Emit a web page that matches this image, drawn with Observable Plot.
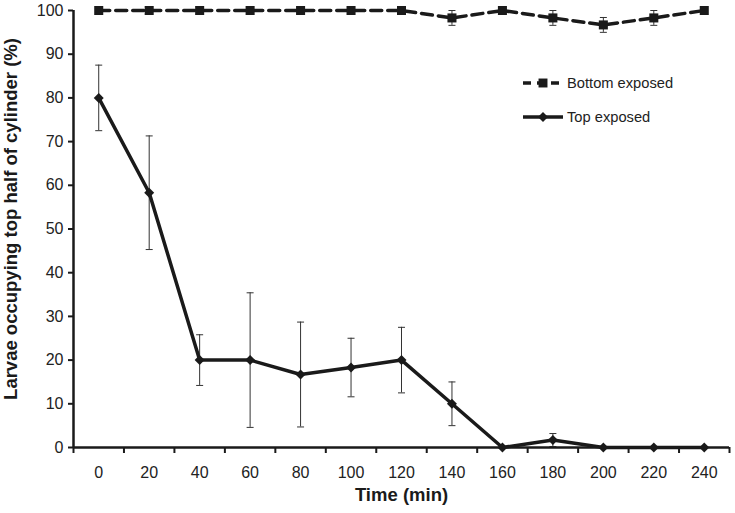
<!DOCTYPE html>
<html>
<head>
<meta charset="utf-8">
<script src="https://cdn.jsdelivr.net/npm/d3@7"></script>
<script src="https://cdn.jsdelivr.net/npm/@observablehq/plot@0.6"></script>
<style>
  html, body { margin: 0; padding: 0; background: #fff; }
  #wrap { position: relative; width: 735px; height: 513px; font-family: "Liberation Sans", Arial, sans-serif; }
  #legend { position: absolute; left: 518px; top: 68px; }
</style>
</head>
<body>
<div id="wrap"></div>
<script>
const times = [0, 20, 40, 60, 80, 100, 120, 140, 160, 180, 200, 220, 240];
const topMean = [80, 58.3, 20, 20, 16.7, 18.3, 20, 10, 0, 1.7, 0, 0, 0];
const topErr = [7.5, 13, 5.8, 15.4, 12, 6.7, 7.5, 5, 0, 1.5, 0, 0, 0];
const bottomMean = [100, 100, 100, 100, 100, 100, 100, 98.3, 100, 98.3, 96.7, 98.3, 100];
const bottomErr = [0, 0, 0, 0, 0, 0, 0, 1.7, 0, 1.7, 1.7, 1.7, 0];
const yTicks = [0, 10, 20, 30, 40, 50, 60, 70, 80, 90, 100];
const seriesNames = ["Bottom exposed", "Top exposed"];

const topData = times.map((t, i) => ({t, v: topMean[i], e: topErr[i]}));
const bottomData = times.map((t, i) => ({t, v: bottomMean[i], e: bottomErr[i]}));
const bounds = d3.range(times.length + 1).map(i => i * 20 - 10);

const cap = {draw(ctx) { ctx.moveTo(-3.5, 0); ctx.lineTo(3.5, 0); }};
const withErr = d => d.filter(p => p.e > 0);

const font = "Liberation Sans, Arial, sans-serif";
const ink = "#1a1a1a";

const errMarks = data => [
  Plot.ruleX(withErr(data), {x: "t", y1: d => d.v - d.e, y2: d => d.v + d.e, stroke: "#333", strokeWidth: 1}),
  Plot.dot(withErr(data), {x: "t", y: d => d.v + d.e, symbol: cap, stroke: "#333", strokeWidth: 1, r: 3}),
  Plot.dot(withErr(data), {x: "t", y: d => d.v - d.e, symbol: cap, stroke: "#333", strokeWidth: 1, r: 3})
];

const chart = Plot.plot({
  width: 735,
  height: 513,
  marginLeft: 73,
  marginRight: 6,
  marginTop: 10,
  marginBottom: 66,
  style: {fontFamily: font, fontSize: "16px", color: "#222", background: "#fff"},
  x: {type: "linear", domain: [-10, 250]},
  y: {domain: [0, 100]},
  marks: [
    ...errMarks(topData),
    ...errMarks(bottomData),
    Plot.line(bottomData, {x: "t", y: "v", stroke: ink, strokeWidth: 3.5, strokeDasharray: "11,6"}),
    Plot.line(topData, {x: "t", y: "v", stroke: ink, strokeWidth: 3.5}),
    Plot.dot(bottomData, {x: "t", y: "v", symbol: "square", r: 5.1, fill: ink}),
    Plot.dot(topData, {x: "t", y: "v", symbol: "diamond2", r: 4.5, fill: ink}),
    // axes
    Plot.axisY({ticks: yTicks, tickSize: 5, tickPadding: 5, tickFormat: d => d, stroke: ink, strokeWidth: 2, fontSize: 16, fill: "#222", label: null}),
    Plot.axisX({ticks: bounds, tickSize: 6, tickFormat: () => "", stroke: ink, strokeWidth: 2, label: null}),
    Plot.axisX({ticks: times, tickSize: 0, tickPadding: 19, tickFormat: d => d, fontSize: 16, fill: "#222", label: null}),
    Plot.ruleX([-10], {stroke: ink, strokeWidth: 2.5}),
    Plot.ruleY([0], {stroke: ink, strokeWidth: 2.5}),
    // axis titles
    Plot.text(["Time (min)"], {frameAnchor: "bottom", dy: 53, fontWeight: "bold", fontSize: 18.5, fill: ink}),
    Plot.text(["Larvae occupying top half of cylinder (%)"], {frameAnchor: "left", textAnchor: "middle", dx: -62, dy: -10, rotate: -90, fontWeight: "bold", fontSize: 18.5, fill: ink})
  ]
});

document.getElementById("wrap").appendChild(chart);

// legend overlay
const leg = d3.select("#wrap").append("svg").attr("id", "legend")
  .attr("width", 200).attr("height", 64).style("font-family", font);
const legItems = [
  {name: seriesNames[0], dash: "8,6", sym: d3.symbolSquare, size: 80},
  {name: seriesNames[1], dash: null, sym: d3.symbolDiamond2, size: 64}
];
legItems.forEach((it, i) => {
  const y = 15 + i * 34;
  leg.append("line").attr("x1", 5).attr("x2", 45).attr("y1", y).attr("y2", y)
    .attr("stroke", ink).attr("stroke-width", 3.5).attr("stroke-dasharray", it.dash);
  leg.append("path").attr("d", d3.symbol(it.sym, it.size)()).attr("transform", `translate(25,${y})`).attr("fill", ink);
  leg.append("text").attr("x", 49).attr("y", y).attr("dy", "0.35em").attr("font-size", 14.7).attr("fill", "#222").text(it.name);
});
</script>
</body>
</html>
